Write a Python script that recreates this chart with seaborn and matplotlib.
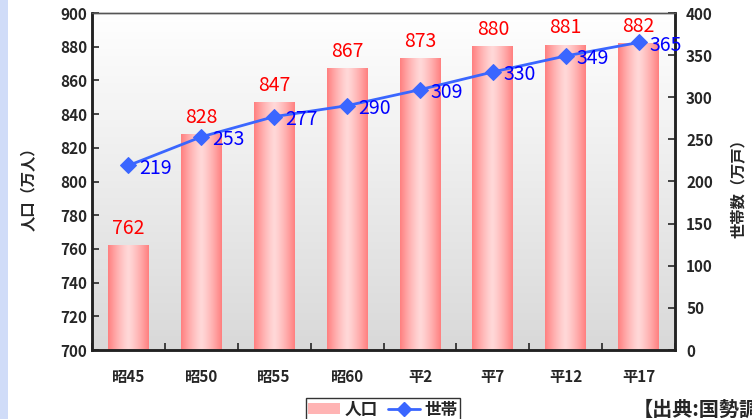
import numpy as np
import matplotlib
matplotlib.use("Agg")
import matplotlib.pyplot as plt
from matplotlib.patches import Patch, Rectangle
from matplotlib.lines import Line2D
import seaborn as sns

categories = ["昭45", "昭50", "昭55", "昭60", "平2", "平7", "平12", "平17"]
population = [762, 828, 847, 867, 873, 880, 881, 882]   # 万人
households = [219, 253, 277, 290, 309, 330, 349, 365]   # 万戸

sns.set_style("white")
plt.rcParams['font.family'] = ['Noto Sans CJK JP', 'DejaVu Sans']

fig = plt.figure(figsize=(7.52, 4.19), dpi=100)
ax = fig.add_axes([92 / 752, 1 - 350 / 419, 583 / 752, 337 / 419])

# bars via seaborn, then repaint each with a horizontal gradient
sns.barplot(x=categories, y=population, color="#ff9090", width=0.56, ax=ax)
c_edge = np.array([255, 128, 128]) / 255
c_mid = np.array([255, 216, 216]) / 255
t = np.linspace(-1, 1, 64)
wgt = 1 - np.abs(t) ** 1.3
grad = (c_edge[None, :] * (1 - wgt[:, None]) + c_mid[None, :] * wgt[:, None])[None, :, :]
for p in ax.patches:
    x0, w, h = p.get_x(), p.get_width(), p.get_height()
    ax.imshow(grad, extent=[x0, x0 + w, 700, h], aspect="auto", zorder=2)
    p.set_facecolor("none")
    p.set_edgecolor("none")
    ax.text(x0 + w / 2, h + 4, f"{h:.0f}", ha="center", va="bottom",
            color="red", fontsize=14, zorder=5)

# plot-area background: white at top fading to grey
bg = np.linspace(1.0, 0.85, 100)[:, None, None] * np.ones((1, 1, 3))
ax.imshow(bg, extent=[0, 1, 0, 1], transform=ax.transAxes, aspect="auto", zorder=0)

ax.set_xlim(-0.5, len(categories) - 0.5)
ax.set_ylim(700, 900)
ax.set_yticks(range(700, 901, 20))
ax.set_xticks(np.arange(-0.5, len(categories)), minor=True)
ax.tick_params(axis="y", direction="in", length=5, width=1.2, labelsize=11)
ax.tick_params(axis="x", which="major", length=0, labelsize=11, pad=14)
ax.tick_params(axis="x", which="minor", direction="in", length=5, width=1.2, bottom=True)
for lab in ax.get_xticklabels() + ax.get_yticklabels():
    lab.set_fontweight("bold")
ax.set_ylabel("人口（万人）", fontsize=11, fontweight="bold")
ax.yaxis.set_label_coords(-0.095, 0.49)

# households line on the right axis
ax2 = ax.twinx()
xs = np.arange(len(categories))
sns.lineplot(x=xs, y=households, color="#3a66ff", marker="D", markersize=8,
             markeredgecolor="#3a66ff", linewidth=2, ax=ax2, zorder=4)
for x, v in zip(xs, households):
    ax2.text(x + 0.15, v - 3, f"{v}", ha="left", va="center",
             color="#0000ff", fontsize=14, zorder=6)
ax2.set_ylim(0, 400)
ax2.set_yticks(range(0, 401, 50))
ax2.tick_params(axis="y", direction="in", length=5, width=1.2, labelsize=11, pad=8)
for lab in ax2.get_yticklabels():
    lab.set_fontweight("bold")
ax2.set_ylabel("世帯数（万戸）", fontsize=11, fontweight="bold", rotation=90)
ax2.yaxis.set_label_coords(1.095, 0.49)

for a in (ax, ax2):
    for side in ("left", "bottom", "right"):
        a.spines[side].set_color("#222222")
        a.spines[side].set_linewidth(1.8)
    a.spines["top"].set_color("#555555")
    a.spines["top"].set_linewidth(1)

handles = [Patch(facecolor="#ffb4b4", edgecolor="none"),
           Line2D([], [], color="#3a66ff", marker="D", markersize=7, linewidth=2)]
fig.legend(handles, ["人口", "世帯"], loc="upper center", ncol=2,
           bbox_to_anchor=(383 / 752, 1 - 398 / 419), borderaxespad=0,
           frameon=True, fancybox=False, edgecolor="black",
           prop={"weight": "bold", "size": 12},
           borderpad=0.15, handlelength=1.9, handleheight=0.6,
           columnspacing=0.6, handletextpad=0.3)

# source note, running off the right edge as in the original
fig.text(633 / 752, 1 - 409 / 419, "【出典:国勢調査】", fontsize=14.5, fontweight="bold",
         ha="left", va="center")

# dotted blue strip on the left edge
fig.patches.append(Rectangle((0, 0), 8 / 752, 1, transform=fig.transFigure,
                             facecolor="#d0dcf8", edgecolor="none"))

fig.savefig("out.png", dpi=100)
